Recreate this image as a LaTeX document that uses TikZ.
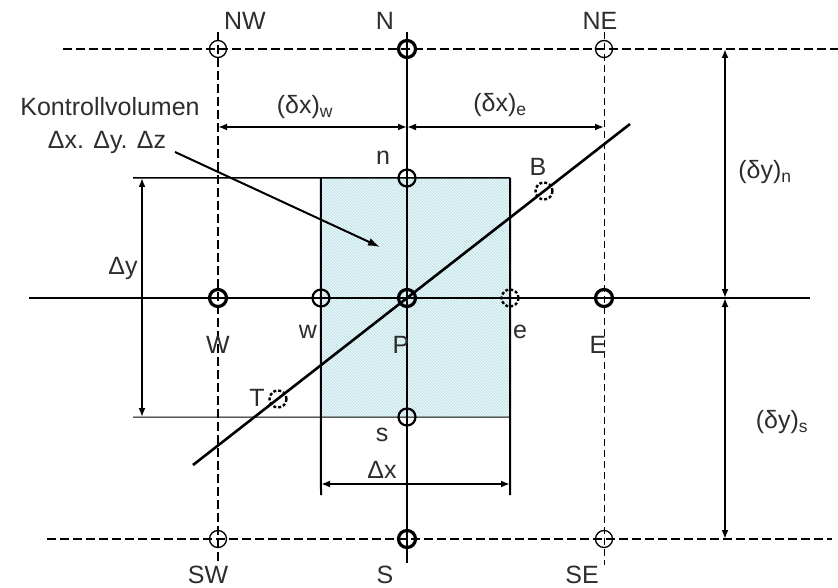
\documentclass[tikz,border=0pt]{standalone}
\usepackage{fontspec}
\setmainfont{Liberation Sans}
\usetikzlibrary{arrows.meta,patterns}
\definecolor{cvfill}{RGB}{196,230,235}
\definecolor{txt}{RGB}{45,45,45}
\begin{document}
\begin{tikzpicture}[x=1pt,y=-1pt,
  lbl/.style={font=\fontsize{25}{29}\selectfont, text=txt, inner sep=0pt},
  gridpt/.style={circle, draw, minimum size=17pt, inner sep=0pt, line width=1.3pt},
  boldpt/.style={gridpt, line width=3.2pt},
  midpt/.style={gridpt, line width=2.2pt},
  dashpt/.style={gridpt, line width=2.4pt, dash pattern=on 3pt off 2pt},
  mainline/.style={line width=2.6pt},
  gdash/.style={line width=2.6pt, dash pattern=on 9pt off 4pt},
  wdash/.style={line width=2pt, dash pattern=on 9pt off 4pt},
  thindash/.style={line width=1pt, dash pattern=on 7pt off 4pt},
  dim/.style={line width=2pt, {Latex[length=9pt,width=7pt]}-{Latex[length=9pt,width=7pt]}},
  pointer/.style={line width=2pt, -{Latex[length=12pt,width=8pt]}},
  cvbox/.style={rectangle, inner sep=0pt, minimum width=189pt, minimum height=239pt,
    fill=cvfill, postaction={pattern=north west lines, pattern color=white}},
]
\useasboundingbox (0,0) rectangle (838,588);

% control volume
\node[cvbox] (cv) at (415.5,297.5) {};

% line end points
\coordinate (TL) at (63,49);   \coordinate (TR) at (838,49);
\coordinate (BL) at (47,539);  \coordinate (BR) at (832,539);
\coordinate (HL) at (29,298);  \coordinate (HR) at (810,298);
\coordinate (Wt) at (218,32);  \coordinate (Wb) at (218,562);
\coordinate (Pt) at (407,32);  \coordinate (Pb) at (407,563);
\coordinate (Et) at (604,32);  \coordinate (Eb) at (604,565);
\coordinate (DyT) at (133,178); \coordinate (DyB) at (133,417);
\coordinate (XL) at (321,495); \coordinate (XR) at (510,495);
\coordinate (ay1) at (142,178); \coordinate (ay2) at (142,417);
\coordinate (ax1) at (321,484); \coordinate (ax2) at (510,484);
\coordinate (dxw1) at (218,127); \coordinate (dxw2) at (407,127); \coordinate (dxe2) at (604,127);
\coordinate (dyn1) at (725,49); \coordinate (dym) at (725,298); \coordinate (dys2) at (725,539);
\coordinate (D1) at (193,465); \coordinate (D2) at (630,124);
\coordinate (K1) at (175,152); \coordinate (K2) at (380,247);

% grid lines
\draw[gdash] (TL) -- (TR);
\draw[gdash] (BL) -- (BR);
\draw[mainline] (HL) -- (HR);
\draw[wdash] (Wt) -- (Wb);
\draw[mainline] (Pt) -- (Pb);
\draw[thindash] (Et) -- (Eb);

% control volume edges
\draw[line width=1.5pt] (DyT) -- (cv.north east);
\draw[line width=1pt] (DyB) -- (cv.south east);
\draw[line width=2pt] (cv.north west) -- (XL);
\draw[line width=2pt] (cv.north east) -- (XR);

% dimensions
\draw[dim] (ay1) -- (ay2);
\draw[dim] (ax1) -- (ax2);
\draw[dim] (dxw1) -- (dxw2);
\draw[dim] (dxw2) -- (dxe2);
\draw[dim] (dyn1) -- (dym);
\draw[dim] (dym) -- (dys2);

% diagonal boundary
\draw[mainline] (D1) -- (D2);
\draw[pointer] (K1) -- (K2);

% grid points
\node[gridpt] (NW) at (218,49) {};
\node[boldpt] (N) at (407,49) {};
\node[gridpt] (NE) at (604,49) {};
\node[boldpt] (W) at (218,298) {};
\node[midpt] (w) at (321,298) {};
\node[boldpt] (P) at (407,298) {};
\node[dashpt] (e) at (510,298) {};
\node[boldpt] (E) at (604,298) {};
\node[midpt] (n) at (407,178) {};
\node[midpt] (s) at (407,417) {};
\node[gridpt] (SW) at (218,539) {};
\node[boldpt] (S) at (407,539) {};
\node[gridpt] (SE) at (604,539) {};
\node[dashpt] (T) at (278,399) {};
\node[dashpt] (B) at (544,191) {};

% labels
\node[lbl] (lNW) at (245,21) {NW};
\node[lbl] (lN) at (385,21) {N};
\node[lbl] (lNE) at (600,21) {NE};
\node[lbl] (lK) at (110,107) {Kontrollvolumen};
\node[lbl] (lK2) at (107,142) {Δx. Δy. Δz};
\node[lbl] (ldxw) at (305,107) {(δx)\textsubscript{w}};
\node[lbl] (ldxe) at (500,105) {(δx)\textsubscript{e}};
\node[lbl] (ln) at (383,158) {n};
\node[lbl] (lB) at (538,167) {B};
\node[lbl] (ldyn) at (765,172) {(δy)\textsubscript{n}};
\node[lbl] (ldy) at (123,268) {Δy};
\node[lbl] (lW) at (218,345) {W};
\node[lbl] (lw) at (308,332) {w};
\node[lbl] (lP) at (401,345) {P};
\node[lbl] (le) at (520,332) {e};
\node[lbl] (lE) at (598,345) {E};
\node[lbl] (lT) at (257,398) {T};
\node[lbl] (ls) at (382,435) {s};
\node[lbl] (ldys) at (782,422) {(δy)\textsubscript{s}};
\node[lbl] (ldx) at (382,470) {Δx};
\node[lbl] (lSW) at (208,575) {SW};
\node[lbl] (lS) at (385,575) {S};
\node[lbl] (lSE) at (582,575) {SE};
\end{tikzpicture}
\end{document}
